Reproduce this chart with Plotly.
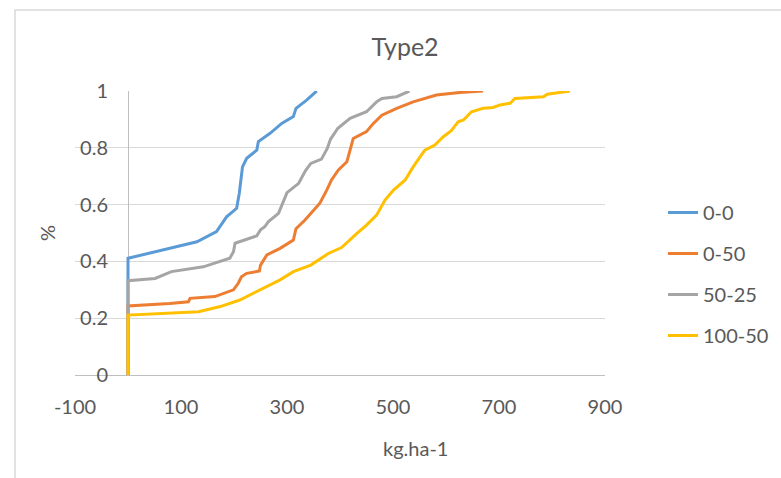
import plotly.graph_objects as go

# ---- data ----
series_names = ["0-0", "0-50", "50-25", "100-50"]
series_colors = ["#5B9BD5", "#ED7D31", "#A5A5A5", "#FFC000"]

x_00 = [0, 0, 130, 167, 186, 205, 210, 216, 224, 243, 246, 268, 290, 312, 317, 337, 356]
y_00 = [0, 0.411, 0.469, 0.505, 0.557, 0.587, 0.64, 0.733, 0.763, 0.792, 0.822, 0.851, 0.886, 0.91, 0.939, 0.968, 1.0]

x_050 = [0, 0, 79, 114, 117, 164, 199, 208, 214, 224, 248, 250, 262, 287, 312, 317, 334, 347, 362, 375, 384,
         397, 413, 425, 450, 463, 479, 507, 538, 582, 626, 670]
y_050 = [0, 0.243, 0.252, 0.258, 0.27, 0.276, 0.3, 0.323, 0.346, 0.358, 0.366, 0.387, 0.423, 0.446, 0.475, 0.515, 0.546,
         0.575, 0.605, 0.651, 0.687, 0.722, 0.751, 0.833, 0.857, 0.886, 0.915, 0.939, 0.962, 0.986, 0.995, 1.0]

x_5025 = [0, 0, 51, 82, 142, 170, 192, 199, 202, 243, 250, 258, 265, 284, 293, 300, 322, 335, 345, 365, 376,
          382, 396, 419, 450, 469, 479, 507, 531]
y_5025 = [0, 0.332, 0.34, 0.364, 0.381, 0.399, 0.411, 0.434, 0.464, 0.49, 0.511, 0.522, 0.54, 0.569, 0.607, 0.642,
          0.675, 0.72, 0.745, 0.76, 0.798, 0.83, 0.869, 0.904, 0.927, 0.962, 0.974, 0.98, 1.0]

x_10050 = [0, 0, 133, 174, 211, 249, 287, 312, 345, 378, 403, 432, 450, 469, 485, 501, 523, 538, 560, 579, 595,
           610, 623, 633, 648, 670, 689, 702, 721, 730, 784, 791, 834]
y_10050 = [0, 0.211, 0.223, 0.241, 0.264, 0.3, 0.335, 0.364, 0.387, 0.428, 0.449, 0.499, 0.528, 0.563, 0.616,
           0.651, 0.687, 0.733, 0.792, 0.81, 0.839, 0.86, 0.892, 0.898, 0.927, 0.939, 0.942, 0.951, 0.957, 0.974,
           0.98, 0.989, 1.0]

x_ticks = [-100, 100, 300, 500, 700, 900]
x_tick_labels = ["-100", "100", "300", "500", "700", "900"]
y_ticks = [0, 0.2, 0.4, 0.6, 0.8, 1]
y_tick_labels = ["0", "0.2", "0.4", "0.6", "0.8", "1"]

title_text = "Type2"
x_title = "kg.ha-1"
y_title = "%"

FONT = "Lato"
TXT = "#595959"

xs = [x_00, x_050, x_5025, x_10050]
ys = [y_00, y_050, y_5025, y_10050]

fig = go.Figure()
for name, color, xv, yv in zip(series_names, series_colors, xs, ys):
    fig.add_trace(go.Scatter(
        x=xv, y=yv, mode="lines", name=name, legendgroup=name,
        line=dict(color=color, width=3),
    ))

W, H = 781, 478
L, R, T, B = 75, 176, 91, 103
pw = W - L - R
ph = H - T - B

def px_to_paper_x(px):
    return (px - L) / pw

def py_to_paper_y(py):
    return (H - B - py) / ph

fig.update_layout(
    width=W, height=H,
    margin=dict(l=L, r=R, t=T, b=B, autoexpand=False),
    paper_bgcolor="white", plot_bgcolor="white",
    font=dict(family=FONT, color=TXT, size=20),
    title=dict(text=title_text, x=405 / W, xref="container", xanchor="center",
               y=1 - 47 / H, yref="container", yanchor="middle",
               font=dict(family=FONT, size=25, color=TXT)),
    xaxis=dict(range=[-100, 900], tickvals=x_ticks, ticktext=x_tick_labels, showgrid=False,
               zeroline=True, zerolinecolor="#bfbfbf", zerolinewidth=1,
               showline=False, ticks="", ticklabelstandoff=18,
               tickfont=dict(family=FONT, size=20, color=TXT)),
    yaxis=dict(range=[0, 1.0001], tickvals=y_ticks, ticktext=y_tick_labels, anchor="free",
               position=px_to_paper_x(108),
               showgrid=True, gridcolor="#d9d9d9", gridwidth=1,
               zeroline=True, zerolinecolor="#bfbfbf", zerolinewidth=1,
               showline=False, ticks="",
               tickfont=dict(family=FONT, size=20, color=TXT),
               title=dict(text=y_title, standoff=18,
                          font=dict(family=FONT, size=20, color=TXT))),
    legend=dict(x=px_to_paper_x(663), xanchor="left",
                y=py_to_paper_y(193), yanchor="top",
                tracegroupgap=12, font=dict(family=FONT, size=20, color=TXT),
                bgcolor="rgba(0,0,0,0)"),
    showlegend=True,
)

fig.add_annotation(text=x_title, xref="paper", yref="paper",
                   x=px_to_paper_x(415), y=py_to_paper_y(448),
                   xanchor="center", yanchor="middle", showarrow=False,
                   font=dict(family=FONT, size=20, color=TXT))

# chart area border (top/left visible)
fig.add_shape(type="rect", xref="paper", yref="paper",
              x0=px_to_paper_x(15), x1=px_to_paper_x(800),
              y0=py_to_paper_y(500), y1=py_to_paper_y(10),
              line=dict(color="#d9d9d9", width=1.5), fillcolor="rgba(0,0,0,0)",
              layer="below")

fig.write_html("out.html")
